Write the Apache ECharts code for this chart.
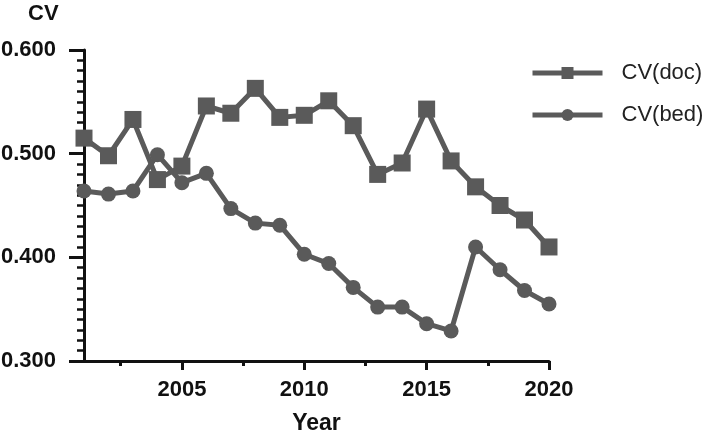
<!DOCTYPE html>
<html>
<head>
<meta charset="utf-8">
<script src="https://cdn.jsdelivr.net/npm/echarts@6/dist/echarts.min.js"></script>
<style>
    html, body { margin: 0; padding: 0; background: #fff; }
    #chart { width: 708px; height: 436px; }
</style>
</head>
<body>
<div id="chart"></div>
<script>
    var years = [2001, 2002, 2003, 2004, 2005, 2006, 2007, 2008, 2009, 2010,
                 2011, 2012, 2013, 2014, 2015, 2016, 2017, 2018, 2019, 2020];
    var cvDoc = [0.515, 0.498, 0.533, 0.475, 0.488, 0.546, 0.539, 0.563, 0.535, 0.537,
                 0.551, 0.527, 0.480, 0.491, 0.543, 0.493, 0.468, 0.450, 0.436, 0.410];
    var cvBed = [0.464, 0.461, 0.464, 0.499, 0.472, 0.481, 0.447, 0.433, 0.431, 0.403,
                 0.394, 0.371, 0.352, 0.352, 0.336, 0.329, 0.410, 0.388, 0.368, 0.355];
    var xMajorTicks = [2005, 2010, 2015, 2020];
    var xMinorTicks = [2002.5, 2007.5, 2012.5, 2017.5];

    var seriesColor = '#5a5a5a';
    var fontFamily = '"Liberation Sans", Arial, sans-serif';

    function pairs(vals) {
        var out = [];
        for (var i = 0; i < years.length; i++) {
            out.push([years[i], vals[i]]);
        }
        return out;
    }

    var chart = echarts.init(document.getElementById('chart'));
    var option = {
        animation: false,
        title: {
            text: 'CV',
            left: 23,
            top: -2,
            textStyle: {fontFamily: fontFamily, fontSize: 22, fontWeight: 'bold', color: '#111'}
        },
        legend: {
            orient: 'vertical',
            left: 525,
            top: 57,
            itemWidth: 70,
            itemHeight: 15,
            itemGap: 20,
            lineStyle: {width: 5},
            textStyle: {fontFamily: fontFamily, fontSize: 22, color: '#222', padding: [0, 0, 0, 14]},
            data: ['CV(doc)', 'CV(bed)']
        },
        grid: {left: 84, right: 159, top: 50, bottom: 75, outerBoundsMode: 'none'},
        xAxis: [
            {
                type: 'value',
                min: 2001,
                max: 2020,
                name: 'Year',
                nameLocation: 'middle',
                nameGap: 51,
                nameTextStyle: {fontFamily: fontFamily, fontSize: 23, fontWeight: 'bold', color: '#111'},
                axisLine: {lineStyle: {color: '#111', width: 3}},
                axisTick: {customValues: xMajorTicks, length: 9, lineStyle: {color: '#111', width: 3}},
                axisLabel: {
                    customValues: xMajorTicks,
                    margin: 18,
                    fontFamily: fontFamily, fontSize: 22, fontWeight: 'bold', color: '#111',
                    formatter: function (v) { return String(v); }
                },
                splitLine: {show: false}
            },
            {
                type: 'value',
                min: 2001,
                max: 2020,
                position: 'bottom',
                axisLine: {show: false},
                axisTick: {customValues: xMinorTicks, length: 5, lineStyle: {color: '#111', width: 3}},
                axisLabel: {show: false},
                splitLine: {show: false}
            }
        ],
        yAxis: {
            type: 'value',
            min: 0.3,
            max: 0.6,
            interval: 0.1,
            axisLine: {show: true, lineStyle: {color: '#111', width: 3}},
            axisTick: {show: true, length: 15, lineStyle: {color: '#111', width: 3}},
            minorTick: {show: true, splitNumber: 10, length: 7, lineStyle: {color: '#111', width: 2.5}},
            axisLabel: {
                margin: 28,
                fontFamily: fontFamily, fontSize: 22, fontWeight: 'bold', color: '#111',
                formatter: function (v) { return v.toFixed(3); }
            },
            splitLine: {show: false}
        },
        series: [
            {
                name: 'CV(doc)',
                type: 'line',
                data: pairs(cvDoc),
                symbol: 'rect',
                symbolSize: 17,
                color: seriesColor,
                lineStyle: {width: 5, color: seriesColor},
                itemStyle: {color: seriesColor}
            },
            {
                name: 'CV(bed)',
                type: 'line',
                data: pairs(cvBed),
                symbol: 'circle',
                symbolSize: 15,
                color: seriesColor,
                lineStyle: {width: 5, color: seriesColor},
                itemStyle: {color: seriesColor}
            }
        ]
    };
    chart.setOption(option);
</script>
</body>
</html>
